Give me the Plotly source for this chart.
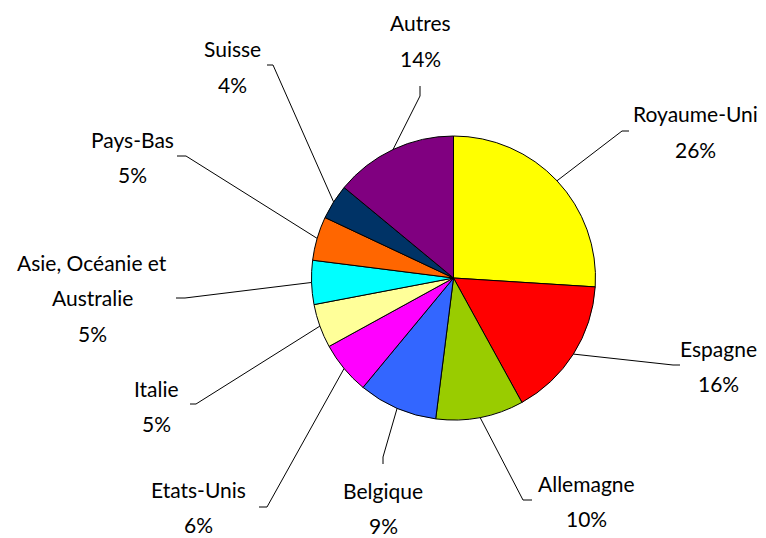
import math
import plotly.graph_objects as go

W, H = 766, 538
OFF = 8  # page body margin of the browser

labels = ["Royaume-Uni", "Espagne", "Allemagne", "Belgique", "Etats-Unis",
          "Italie", "Asie, Océanie et<br>Australie", "Pays-Bas", "Suisse", "Autres"]
values = [26, 16, 10, 9, 6, 5, 5, 5, 4, 14]
colors = ["#FFFF00", "#FF0000", "#99CC00", "#3366FF", "#FF00FF",
          "#FFFF99", "#00FFFF", "#FF6600", "#003366", "#800080"]

# layout: pie centre / radius (px), label centres, leader-line elbows & ends (px)
CX, CY, R = 453.5, 278, 142
label_pos = [(695, 114), (718, 348), (586, 483), (383, 490), (198, 489),
             (156, 388), (92, 262), (132, 139), (232, 49), (420, 23)]
elbow = [(622, 131), (673, 365), (523, 500), (383, 457), (267, 507),
         (196, 404), (185, 298), (186, 156), (273, 65), (420, 96)]
ends = [(629, 131), (680, 365), (532, 500), (383, 464), (259, 507),
        (190, 404), (176, 298), (177, 156), (267, 65), (420, 86)]
LINE_GAP = 35.5
FONT = "Lato, 'Gill Sans', sans-serif"

FW, FH = W - OFF, H - OFF


def px(x):
    return (x - OFF) / FW


def py(y):
    return 1 - (y - OFF) / FH


fig = go.Figure(go.Pie(
    labels=[l.replace("<br>", " ") for l in labels],
    values=values,
    sort=False,
    direction="clockwise",
    rotation=0,
    textinfo="none",
    hoverinfo="label+percent",
    marker=dict(colors=colors, line=dict(color="black", width=1)),
    domain=dict(x=[px(CX - R), px(CX + R)], y=[py(CY + R), py(CY - R)]),
    showlegend=False,
))

total = sum(values)
shapes = []
annotations = []
cum = 0
for i, v in enumerate(values):
    mid = (cum + v / 2) / total * 2 * math.pi
    cum += v
    ax = CX + R * math.sin(mid)
    ay = CY - R * math.cos(mid)
    ex, ey = elbow[i]
    fx, fy = ends[i]
    shapes.append(dict(
        type="path", xref="paper", yref="paper",
        path=f"M {px(ax)},{py(ay)} L {px(ex)},{py(ey)} L {px(fx)},{py(fy)}",
        line=dict(color="black", width=1),
    ))
    pct = round(v / total * 100)
    lines = labels[i].split("<br>") + [f"{pct}%"]
    lx, ly = label_pos[i]
    for j, t in enumerate(lines):
        annotations.append(dict(
            x=px(lx), y=py(ly + j * LINE_GAP), xref="paper", yref="paper",
            text=t, showarrow=False, xanchor="center", yanchor="middle",
            borderpad=0,
            font=dict(family=FONT, size=21, color="black"),
        ))

fig.update_layout(
    width=FW, height=FH,
    margin=dict(l=0, r=0, t=0, b=0),
    paper_bgcolor="white", plot_bgcolor="white",
    shapes=shapes, annotations=annotations,
)

fig.write_html("out.html")
